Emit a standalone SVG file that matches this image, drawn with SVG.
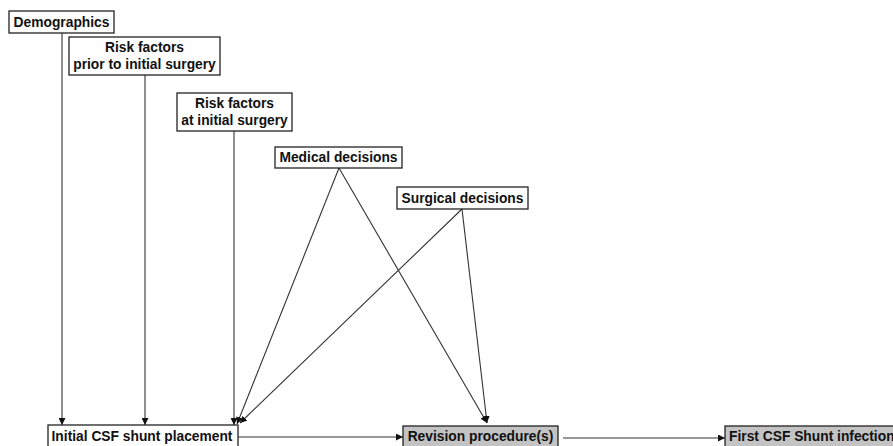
<svg xmlns="http://www.w3.org/2000/svg" width="893" height="446" viewBox="0 0 893 446">
<defs>
<style>
.box{fill:#fff;stroke:#222;stroke-width:1.3}
.gbox{fill:#c3c3c3;stroke:#222;stroke-width:1.3}
.t{font-family:"Liberation Sans",Arial,sans-serif;font-weight:bold;font-size:13.8px;fill:#111}
.c{stroke:#333;stroke-width:1.1;fill:none;marker-end:url(#ah)}
</style>
<marker id="ah" viewBox="0 0 10 10" refX="10" refY="5" markerWidth="7" markerHeight="7" markerUnits="userSpaceOnUse" orient="auto">
<path d="M0,0 L10,5 L0,10 z" fill="#111"/>
</marker>
</defs>
<rect width="893" height="446" fill="#fff"/>
<g id="connectors">
<line class="c" x1="62" y1="33" x2="62" y2="425"/>
<line class="c" x1="145" y1="75" x2="145" y2="425"/>
<line class="c" x1="234" y1="131" x2="234" y2="425"/>
<line class="c" x1="339" y1="168" x2="237" y2="424"/>
<line class="c" x1="462" y1="209" x2="240" y2="423"/>
<line class="c" x1="339" y1="168" x2="487" y2="423"/>
<line class="c" x1="462" y1="209" x2="487" y2="423"/>
<line class="c" x1="238" y1="437" x2="403" y2="437"/>
<line class="c" x1="563" y1="438" x2="725" y2="438"/>
</g>
<g id="demographics">
<rect class="box" x="9" y="11" width="105" height="22"/>
<text class="t" x="61.5" y="27" text-anchor="middle">Demographics</text>
</g>
<g id="risk-prior">
<rect class="box" x="69" y="37" width="151" height="38"/>
<text class="t" x="144.5" y="52" text-anchor="middle">Risk factors</text>
<text class="t" x="144.5" y="69" text-anchor="middle">prior to initial surgery</text>
</g>
<g id="risk-initial">
<rect class="box" x="177" y="93" width="115" height="38"/>
<text class="t" x="234.5" y="108" text-anchor="middle">Risk factors</text>
<text class="t" x="234.5" y="125" text-anchor="middle">at initial surgery</text>
</g>
<g id="medical">
<rect class="box" x="275" y="147" width="127" height="21"/>
<text class="t" x="338.5" y="162" text-anchor="middle">Medical decisions</text>
</g>
<g id="surgical">
<rect class="box" x="397" y="187" width="131" height="22"/>
<text class="t" x="462.5" y="203" text-anchor="middle">Surgical decisions</text>
</g>
<g id="initial">
<rect class="box" x="48" y="425" width="190" height="30"/>
<text class="t" x="142" y="441" text-anchor="middle">Initial CSF shunt placement</text>
</g>
<g id="revision">
<rect class="gbox" x="403" y="426" width="155" height="30"/>
<text class="t" x="480.5" y="441" text-anchor="middle">Revision procedure(s)</text>
</g>
<g id="infection">
<rect class="gbox" x="725" y="426" width="180" height="30"/>
<text class="t" x="729" y="441">First CSF Shunt infection</text>
</g>
</svg>
